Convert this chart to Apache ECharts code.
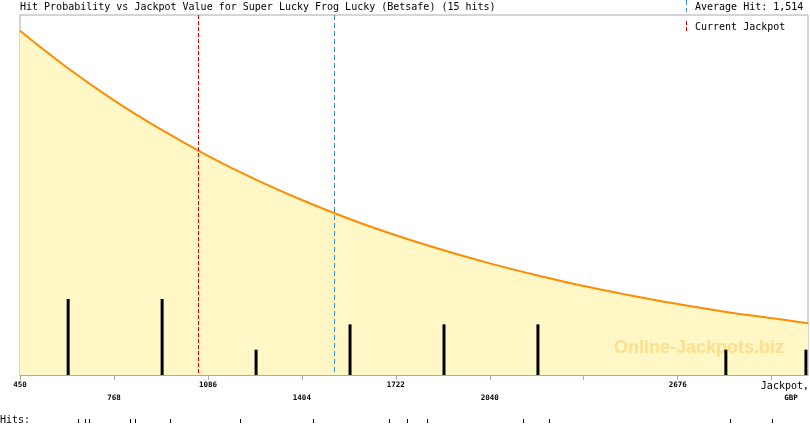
<!DOCTYPE html>
<html>
<head>
<meta charset="utf-8">
<script src="https://cdn.jsdelivr.net/npm/echarts@6/dist/echarts.min.js"></script>
<style>
html,body{margin:0;padding:0;background:#fff;}
#chart{width:810px;height:425px;}
</style>
</head>
<body>
<div id="chart"></div>
<script>
// ---- data ----
const titleText = 'Hit Probability vs Jackpot Value for Super Lucky Frog Lucky (Betsafe) (15 hits)';
const xMin = 450, xMax = 3117;
const tickValues = [450, 768, 1086, 1404, 1722, 2040, 2358, 2676, 2994];
const tickLabels = ['450', '768', '1086', '1404', '1722', '2040', '', '2676', ''];
const tickRows   = [0, 1, 0, 1, 0, 1, 0, 0, 0];
const curveX = [450, 609, 768, 927, 1086, 1245, 1404, 1563, 1722, 1881, 2040, 2199, 2358, 2517, 2676, 2835, 2994, 3117];
const curveY = [0.956, 0.854, 0.763, 0.682, 0.609, 0.544, 0.486, 0.434, 0.388, 0.347, 0.310, 0.277, 0.247, 0.221, 0.197, 0.176, 0.158, 0.144];
const binX = [613, 931, 1249, 1567, 1885, 2203, 2521, 2839, 3110];
const binCounts = [3, 3, 1, 2, 2, 2, 0, 1, 1];
const hits = [646, 670, 683, 822, 839, 957, 1194, 1441, 1698, 1759, 1827, 2152, 2240, 2852, 2994];
const currentJackpot = 1052;
const averageHit = 1514;
const averageLabel = 'Average Hit: 1,514';
const currentLabel = 'Current Jackpot';
const axisName1 = 'Jackpot,';
const axisName2 = 'GBP';
const hitsLabel = 'Hits:';
const watermark = 'Online-Jackpots.biz';

const chart = echarts.init(document.getElementById('chart'), null, {renderer: 'canvas'});
const mono = '"DejaVu Sans Mono", "Liberation Mono", monospace';
const curveData = curveX.map((x, i) => [x, curveY[i]]);
const barData = binX.map((x, i) => [x, binCounts[i]]);
const hitData = hits.map(v => [v, 0]);

function crispVLine(color, dash) {
  return function (params, api) {
    const p = api.coord([api.value(0), 0]);
    const cs = params.coordSys;
    const x = Math.round(p[0]) + 0.5;
    return {
      type: 'line',
      shape: {x1: x, y1: cs.y, x2: x, y2: cs.y + cs.height},
      style: {stroke: color, lineWidth: 1, lineDash: dash}
    };
  };
}

const option = {
  animation: false,
  backgroundColor: '#ffffff',
  grid: [
    {left: 20, top: 15, width: 788, height: 360, show: true, borderColor: '#aaaaaa', borderWidth: 1, backgroundColor: 'transparent'},
    {left: 20, top: 419, width: 788, height: 4, show: false}
  ],
  xAxis: [
    {
      type: 'value', gridIndex: 0, min: xMin, max: xMax,
      axisLine: {show: true, lineStyle: {color: '#aaaaaa', width: 1}},
      axisTick: {show: true, length: 5, lineStyle: {color: '#aaaaaa'}, customValues: tickValues},
      axisLabel: {
        show: true, customValues: tickValues, margin: 4,
        fontFamily: mono, fontSize: 7.5, fontWeight: 'bold', color: '#000', lineHeight: 13,
        formatter: function (v) {
          const i = tickValues.indexOf(v);
          if (i < 0 || !tickLabels[i]) return '';
          return tickRows[i] ? '\n' + tickLabels[i] : tickLabels[i];
        }
      },
      splitLine: {show: false}
    },
    {type: 'value', gridIndex: 1, min: xMin, max: xMax, show: false}
  ],
  yAxis: [
    {type: 'value', gridIndex: 0, min: 0, max: 1, show: false, splitLine: {show: false}},
    {type: 'value', gridIndex: 0, min: 0, max: 14.21, show: false, splitLine: {show: false}},
    {type: 'value', gridIndex: 1, min: 0, max: 1, show: false}
  ],
  series: [
    {
      type: 'line', xAxisIndex: 0, yAxisIndex: 0, data: curveData,
      smooth: 0.4, showSymbol: false, z: 2,
      lineStyle: {color: '#ff8c00', width: 2},
      areaStyle: {color: '#fff8c6', opacity: 1}
    },
    {
      type: 'custom', xAxisIndex: 0, yAxisIndex: 0, z: 5, silent: true,
      data: [[currentJackpot]], renderItem: crispVLine('#e00000', [4, 2])
    },
    {
      type: 'custom', xAxisIndex: 0, yAxisIndex: 0, z: 5, silent: true,
      data: [[averageHit]], renderItem: crispVLine('#3a8fd0', [5, 3])
    },
    {
      type: 'bar', xAxisIndex: 0, yAxisIndex: 1, data: barData,
      barWidth: 3, z: 4, itemStyle: {color: '#000000'}
    },
    {
      type: 'custom', xAxisIndex: 1, yAxisIndex: 2, data: hitData, silent: true,
      renderItem: crispVLine('#000000', null)
    }
  ],
  graphic: [
    {type: 'text', x: 20, y: 7, style: {text: titleText, font: '10px ' + mono, fill: '#000', align: 'left', verticalAlign: 'middle'}},
    {type: 'line', shape: {x1: 686.5, y1: 0, x2: 686.5, y2: 12}, style: {stroke: '#3a8fd0', lineWidth: 1, lineDash: [5, 3]}},
    {type: 'text', x: 695, y: 7, style: {text: averageLabel, font: '10px ' + mono, fill: '#000', align: 'left', verticalAlign: 'middle'}},
    {type: 'line', shape: {x1: 686.5, y1: 21, x2: 686.5, y2: 32}, style: {stroke: '#e00000', lineWidth: 1, lineDash: [4, 2]}},
    {type: 'text', x: 695, y: 27, style: {text: currentLabel, font: '10px ' + mono, fill: '#000', align: 'left', verticalAlign: 'middle'}},
    {type: 'text', x: 809, y: 386, style: {text: axisName1, font: '10px ' + mono, fill: '#000', align: 'right', verticalAlign: 'middle'}},
    {type: 'text', x: 791, y: 398.5, style: {text: axisName2, font: 'bold 7.5px ' + mono, fill: '#000', align: 'center', verticalAlign: 'middle'}},
    {type: 'text', x: 0, y: 420, style: {text: hitsLabel, font: '10px ' + mono, fill: '#000', align: 'left', verticalAlign: 'middle'}},
    {type: 'text', x: 699, y: 348, z: 3, style: {text: watermark, font: 'bold 18px "Liberation Sans", Arial, sans-serif', fill: 'rgba(255,160,0,0.3)', align: 'center', verticalAlign: 'middle'}}
  ]
};
chart.setOption(option);
</script>
</body>
</html>
